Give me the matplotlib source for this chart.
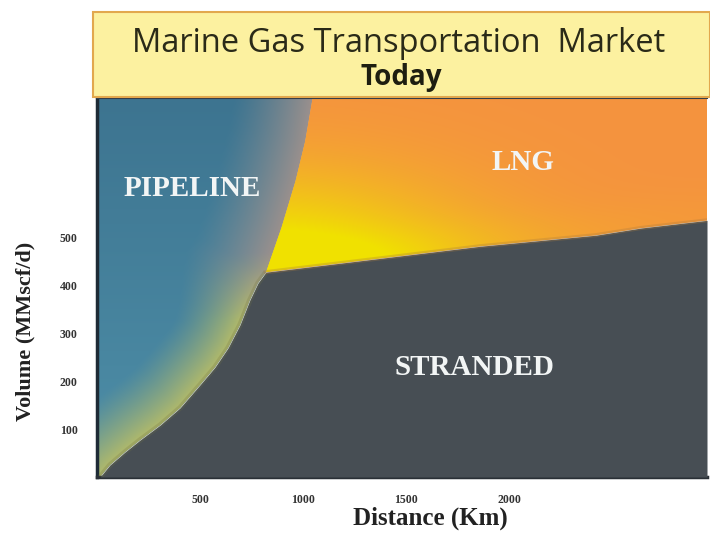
import matplotlib
matplotlib.use("Agg")
import matplotlib.pyplot as plt
import numpy as np
from matplotlib.colors import to_rgb
from matplotlib.patches import Rectangle

# Frontier between pipeline and stranded gas (Distance km, Volume MMscf/d)
PIPE_DIST = [15, 63, 136, 209, 306, 403, 500, 573, 636, 694, 742, 781, 820]
PIPE_VOL = [0, 25, 52, 77, 108, 144, 192, 229, 269, 317, 369, 404, 427]
# Frontier between stranded gas and LNG
LNG_DIST = [820, 1380, 1860, 2420, 2640, 2960]
LNG_VOL = [427, 456, 481, 504, 519, 535]
# Frontier between pipeline and LNG
TOP_DIST = [820, 895, 963, 1010, 1046]
TOP_VOL = [427, 520, 617, 700, 790]

X_TICKS = [500, 1000, 1500, 2000]
Y_TICKS = [100, 200, 300, 400, 500]
X_MAX = 2960
Y_MAX = 790

REGION_LABELS = ["PIPELINE", "LNG", "STRANDED"]
REGION_POS = [(462, 602), (2065, 656), (1830, 229)]

PIPE_BLUE_TOP = "#3D7490"
PIPE_BLUE_BOT = "#4E8FA8"
PIPE_EDGE_HI = "#9A908D"
PIPE_EDGE_LO = "#B2BA6A"
LNG_ORANGE = "#F5933F"
LNG_YELLOW = "#F0E200"
STRANDED = "#474E54"

SERIF = ["Liberation Serif", "DejaVu Serif"]
SANS = ["Open Sans", "DejaVu Sans"]


def seg_dist(px, py, xs, ys):
    best = np.full(px.shape, np.inf)
    for x0, y0, x1, y1 in zip(xs[:-1], ys[:-1], xs[1:], ys[1:]):
        vx, vy = x1 - x0, y1 - y0
        t = np.clip(((px - x0) * vx + (py - y0) * vy) / (vx * vx + vy * vy), 0, 1)
        best = np.minimum(best, np.hypot(px - x0 - t * vx, py - y0 - t * vy))
    return best


def blend(c0, c1, w):
    c0 = np.array(to_rgb(c0))
    c1 = np.array(to_rgb(c1))
    w = np.asarray(w)[..., None]
    return c0 * (1 - w) + c1 * w


fig = plt.figure(figsize=(7.1, 5.36), dpi=100)
ax_w, ax_h = 610, 379
ax = fig.add_axes([97 / 710, 1 - 477 / 536, ax_w / 710, ax_h / 536])
ax.set_xlim(0, X_MAX)
ax.set_ylim(0, Y_MAX)
sx = ax_w / X_MAX
sy = ax_h / Y_MAX

# pixel grid in data coords, used for the shading inside each region
gx = (np.arange(ax_w) + 0.5) / ax_w * X_MAX
gy = (np.arange(ax_h) + 0.5) / ax_h * Y_MAX
GX, GY = np.meshgrid(gx, gy)
PX, PY = GX * sx, GY * sy
extent = [0, X_MAX, 0, Y_MAX]

# --- pipeline region: blue fading to grey / olive at its frontier
front_x = np.array(PIPE_DIST + TOP_DIST[1:]) * sx
front_y = np.array(PIPE_VOL + TOP_VOL[1:]) * sy
dist = seg_dist(PX, PY, front_x, front_y)
knee_v = PIPE_VOL[-1]
w_low = np.clip((knee_v + 40 - GY) / 140, 0, 1)
width = 78 - 18 * w_low
t = np.clip(1 - dist / width, 0, 1) ** 1.25
base = blend(PIPE_BLUE_TOP, PIPE_BLUE_BOT, 1 - GY / Y_MAX)
edge = blend(PIPE_EDGE_HI, PIPE_EDGE_LO, w_low)
pipe_rgb = base * (1 - t[..., None]) + edge * t[..., None]

pipe_poly = ax.fill([0] + PIPE_DIST + TOP_DIST[1:] + [0],
                    [0] + PIPE_VOL + TOP_VOL[1:] + [Y_MAX],
                    color=PIPE_BLUE_BOT, lw=0, zorder=1)[0]
im = ax.imshow(pipe_rgb, extent=extent, origin="lower", aspect="auto",
               interpolation="bilinear", zorder=2)
im.set_clip_path(pipe_poly)

# --- LNG region: orange with a yellow glow around the knee
kx, ky = PIPE_DIST[-1] * sx, PIPE_VOL[-1] * sy
bot_dist = seg_dist(PX, PY, np.array(LNG_DIST) * sx, np.array(LNG_VOL) * sy)
glow = np.exp(-(((PX - kx) / 200) ** 2 + ((PY - ky) / 95) ** 2))
glow2 = np.exp(-(bot_dist / 30) ** 2) * np.exp(-np.clip(PX - kx, 0, None) / 260)
lng_rgb = blend(LNG_ORANGE, LNG_YELLOW, np.clip(1.15 * glow + 0.35 * glow2, 0, 1))
lng_poly = ax.fill(TOP_DIST + [X_MAX] + LNG_DIST[::-1],
                   TOP_VOL + [Y_MAX] + LNG_VOL[::-1],
                   color=LNG_ORANGE, lw=0, zorder=1)[0]
im2 = ax.imshow(lng_rgb, extent=extent, origin="lower", aspect="auto",
                interpolation="bilinear", zorder=2)
im2.set_clip_path(lng_poly)

# --- stranded region
ax.fill_between(PIPE_DIST + LNG_DIST[1:], 0, PIPE_VOL + LNG_VOL[1:],
                color=STRANDED, lw=0, zorder=3)
ax.plot(PIPE_DIST, PIPE_VOL, color="#6E7046", lw=4, alpha=0.25, zorder=4,
        solid_capstyle="butt")
ax.plot(LNG_DIST, LNG_VOL, color="#A87A3E", lw=3, alpha=0.3, zorder=4)

for label, (lx, ly) in zip(REGION_LABELS, REGION_POS):
    ax.text(lx, ly, label, ha="center", va="center", family=SERIF,
            fontweight="bold", fontsize=21, color="#F2F5F5", zorder=5)

# axes cosmetics
ax.set_xticks(X_TICKS)
ax.set_yticks(Y_TICKS)
ax.tick_params(axis="x", length=0, labelsize=8.5, labelcolor="#333333", pad=12)
ax.tick_params(axis="y", length=0, labelsize=8.5, labelcolor="#333333", pad=14)
for lab in ax.get_xticklabels() + ax.get_yticklabels():
    lab.set_family(SERIF)
    lab.set_fontweight("bold")
ax.spines["right"].set_visible(False)
ax.spines["left"].set_color("#1E2B36")
ax.spines["left"].set_linewidth(2.5)
ax.spines["bottom"].set_color("#2A3036")
ax.spines["bottom"].set_linewidth(2.5)
ax.spines["top"].set_color("#2E3A48")
ax.spines["top"].set_linewidth(1.5)
ax.set_xlabel("Distance (Km)", family=SERIF, fontweight="bold", fontsize=18,
              color="#222222", va="center")
ax.xaxis.set_label_coords((430 - 97) / ax_w, (477 - 518) / ax_h)
ax.set_ylabel("Volume (MMscf/d)", family=SERIF, fontweight="bold", fontsize=16,
              color="#222222", va="center")
ax.yaxis.set_label_coords((25 - 97) / ax_w, (477 - 331) / ax_h)

# title banner
fig.patches.append(Rectangle((93 / 710, 1 - 97 / 536), 617 / 710, 85 / 536,
                             transform=fig.transFigure, facecolor="#FCF1A0",
                             edgecolor="#E2A84E", lw=1.5, zorder=0))
fig.text(399 / 710, 1 - 43 / 536, "Marine Gas Transportation  Market",
         ha="center", va="center", family=SANS, fontsize=23.5, color="#2A2A18")
fig.text(401 / 710, 1 - 77 / 536, "Today", ha="center", va="center",
         family=SANS, fontweight="bold", fontsize=20, color="#1E1E10")

fig.savefig("out.png", dpi=100)
